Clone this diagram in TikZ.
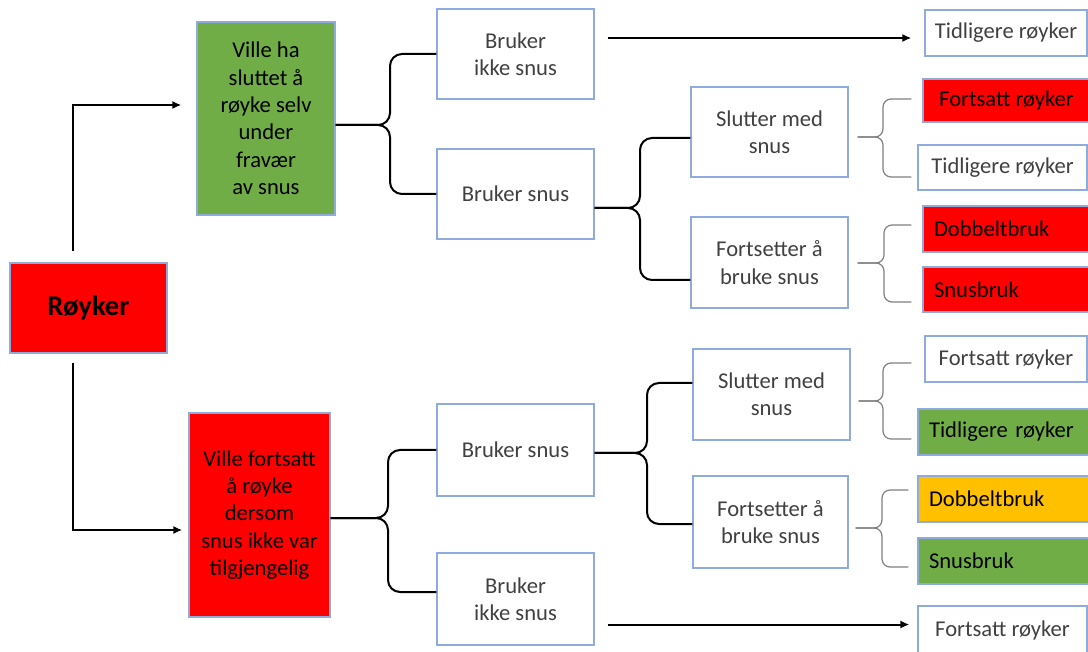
\documentclass[tikz,border=0pt]{standalone}
\usepackage{fontspec}
\setmainfont{Carlito}
\usetikzlibrary{arrows.meta, calc, positioning}

\definecolor{edge}{RGB}{143,170,220}
\definecolor{leaf}{RGB}{112,173,71}
\definecolor{amber}{RGB}{255,192,0}
\definecolor{txt}{RGB}{64,64,64}
\definecolor{thin}{RGB}{128,128,128}

\begin{document}
\begin{tikzpicture}[x=0.5pt, y=-0.5pt,
    cell/.style={draw=edge, line width=0.6pt, inner sep=2pt, align=center, text=txt,
                 font=\fontsize{11.3}{13.7}\selectfont},
    sz/.style 2 args={minimum width=#1*0.5pt, minimum height=#2*0.5pt},
    lcell/.style={cell, inner xsep=5.5pt, align=left},
    arr/.style={line width=1pt, -{Latex[length=4.5pt,width=4pt]}},
    brc/.style={line width=1pt, rounded corners=6pt},
    sbrc/.style={line width=0.6pt, draw=thin, rounded corners=4pt}]
        \useasboundingbox (0,0) rectangle (1088,652);
        % Start
        \node[cell, sz={157}{90}, fill=red, text=black, font=\fontsize{14.3}{16}\selectfont\bfseries] (rk) at (88.5,308) {Røyker};
        % Second column
        \node[cell, sz={138}{193}, fill=leaf, text=black] (quit) at (266,118.5) {Ville ha\\sluttet å\\røyke selv\\under\\fravær\\av snus};
        \node[cell, sz={141}{204}, fill=red, text=black] (keep) at (259.5,515) {Ville fortsatt\\å røyke\\dersom\\snus ikke var\\tilgjengelig};
        % Third column
        \node[cell, sz={157}{90}] (qno) at (515.5,54) {Bruker\\ikke snus};
        \node[cell, sz={157}{90}] (qyes) at (515.5,194) {Bruker snus};
        \node[cell, sz={157}{92}] (kyes) at (515.5,450) {Bruker snus};
        \node[cell, sz={157}{92}] (kno) at (515.5,599) {Bruker\\ikke snus};
        % Fourth column
        \node[cell, sz={157}{90}] (qstop) at (769.5,132) {Slutter med\\snus};
        \node[cell, sz={157}{91}] (qgo) at (769.5,262.5) {Fortsetter å\\bruke snus};
        \node[cell, sz={157}{91}] (kstop) at (771.5,394.5) {Slutter med\\snus};
        \node[cell, sz={155}{92}] (kgo) at (770.5,522) {Fortsetter å\\bruke snus};
        % Outcomes
        \node[cell, sz={162}{46}] (qnoend) at (1006,33) {Tidligere røyker};
        \node[cell, sz={167}{43}, fill=red, text=black] (qs1) at (1006.5,100.5) {Fortsatt røyker};
        \node[cell, sz={169}{45}] (qs2) at (1002.5,167.5) {Tidligere røyker};
        \node[lcell, text width=72.5pt, sz={167}{46}, fill=red, text=black] (qg1) at (1006.5,229) {Dobbeltbruk};
        \node[lcell, text width=72.5pt, sz={167}{45}, fill=red, text=black] (qg2) at (1006.5,289.5) {Snusbruk};
        \node[cell, sz={162}{46}] (ks1) at (1006,359) {Fortsatt røyker};
        \node[lcell, text width=75pt, sz={172}{46}, fill=leaf, text=black] (ks2) at (1004,432) {Tidligere røyker};
        \node[lcell, text width=75pt, sz={172}{46}, fill=amber, text=black] (kg1) at (1004,499) {Dobbeltbruk};
        \node[lcell, text width=75pt, sz={172}{46}, fill=leaf, text=black] (kg2) at (1004,561) {Snusbruk};
        \node[cell, sz={169}{49}] (knoend) at (1002.5,630.5) {Fortsatt røyker};
        % Arrows
        \draw[arr, shorten <=5.5pt, shorten >=7.5pt] ([xshift=-7.75pt]rk.north) |- ([yshift=6.75pt]quit.west);
        \draw[arr, shorten <=4.5pt, shorten >=3pt] ([xshift=-7.75pt]rk.south) |- ([yshift=-7.5pt]keep.west);
        \coordinate (qa) at ([yshift=-2.5pt]qnoend.west);
        \draw[arr, shorten <=6.5pt, shorten >=6.5pt] (qa -| qno.east) -- (qa);
        \coordinate (ka) at ([yshift=3pt]knoend.west);
        \draw[arr, shorten <=6.5pt, shorten >=4pt] (ka -| kno.east) -- (ka);
        % Braces, upper half
        \coordinate (k1) at (390,125);
        \draw[brc] (qno.west) -| (k1) -- (k1 -| quit.east);
        \draw[brc] (qyes.west) -| (k1) -- (k1 -| quit.east);
        \coordinate (k2) at (640,208);
        \draw[brc] ([yshift=-3pt]qstop.west) -| (k2) -- (k2 -| qyes.east);
        \draw[brc] ([yshift=-8.75pt]qgo.west) -| (k2) -- (k2 -| qyes.east);
        \coordinate (k5) at (883,137);
        \draw[sbrc, shorten <=5.5pt, shorten >=4.5pt] ([yshift=0.75pt]qs1.west) -| (k5) -- (k5 -| qstop.east);
        \draw[sbrc, shorten <=3pt, shorten >=4.5pt] ([yshift=-4.75pt]qs2.west) -| (k5) -- (k5 -| qstop.east);
        \coordinate (k6) at (884,263);
        \draw[sbrc, shorten <=5.5pt, shorten >=4.5pt] ([yshift=2pt]qg1.west) -| (k6) -- (k6 -| qgo.east);
        \draw[sbrc, shorten <=5.5pt, shorten >=4.5pt] ([yshift=-6.25pt]qg2.west) -| (k6) -- (k6 -| qgo.east);
        % Braces, lower half
        \coordinate (k3) at (388,518);
        \draw[brc] (kyes.west) -| (k3) -- (k3 -| keep.east);
        \draw[brc] ([yshift=3.5pt]kno.west) -| (k3) -- (k3 -| keep.east);
        \coordinate (k4) at (647,453);
        \draw[brc] ([yshift=5.75pt]kstop.west) -| (k4) -- (k4 -| kyes.east);
        \draw[brc] ([yshift=-1pt]kgo.west) -| (k4) -- (k4 -| kyes.east);
        \coordinate (k7) at (883,401);
        \draw[sbrc, shorten <=6.5pt, shorten >=4pt] ([yshift=-2pt]ks1.west) -| (k7) -- (k7 -| kstop.east);
        \draw[sbrc, shorten <=3pt, shorten >=4pt] ([yshift=-3.5pt]ks2.west) -| (k7) -- (k7 -| kstop.east);
        \coordinate (k8) at (882,528);
        \draw[sbrc, shorten <=4.5pt, shorten >=3.5pt] ([yshift=4.5pt]kg1.west) -| (k8) -- (k8 -| kgo.east);
        \draw[sbrc, shorten <=4.5pt, shorten >=3.5pt] ([yshift=-3pt]kg2.west) -| (k8) -- (k8 -| kgo.east);
\end{tikzpicture}
\end{document}
